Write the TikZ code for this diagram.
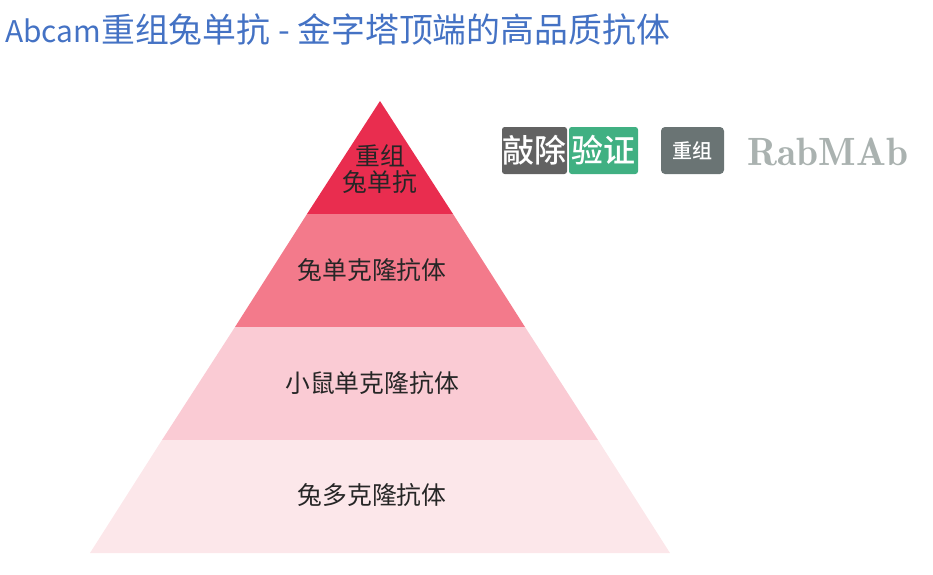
\documentclass[tikz,border=0pt]{standalone}
\usepackage{fontspec}
\setmainfont{Noto Sans CJK SC}
\newfontfamily\badgefont{Noto Sans CJK SC Medium}
\definecolor{titleblue}{RGB}{68,114,196}
\definecolor{tierone}{RGB}{233,45,79}
\definecolor{tiertwo}{RGB}{243,122,139}
\definecolor{tierthree}{RGB}{250,203,212}
\definecolor{tierfour}{RGB}{252,231,234}
\definecolor{koleft}{RGB}{98,98,98}
\definecolor{kogreen}{RGB}{64,176,130}
\definecolor{recombox}{RGB}{106,116,116}
\definecolor{rabgrey}{RGB}{170,178,176}
\tikzset{
  tierlabel/.style={font=\fontsize{18.6}{22}\selectfont,text=black!85,inner sep=0pt},
  badgelabel/.style={font=\badgefont\fontsize{24}{26}\selectfont,text=white,inner sep=0pt}
}
\begin{document}
\begin{tikzpicture}[x=0.75pt,y=-0.75pt]
  \useasboundingbox (0,0) rectangle (933,575);
  \draw
    (5,30) node[anchor=west,inner sep=0pt,text=titleblue,font=\fontsize{25.4}{28}\selectfont] (title){{\fontsize{22.4}{28}\selectfont Abcam}重组兔单抗 - 金字塔顶端的高品质抗体};
  \begin{scope}
    \fill[tierone] (380,101) -- (453,214) -- (307,214) -- cycle;
    \fill[tiertwo] (307,214) -- (453,214) -- (525,327) -- (235,327) -- cycle;
    \fill[tierthree] (235,327) -- (525,327) -- (598,440) -- (162,440) -- cycle;
    \fill[tierfour] (162,440) -- (598,440) -- (670,553) -- (90,553) -- cycle;
  \end{scope}
  \draw
    (380,169) node[tierlabel,align=center] (recomb){重组\\[-2pt]兔单抗}
    (372,270) node[tierlabel] (rabbitmono){兔单克隆抗体}
    (372,383) node[tierlabel] (mousemono){小鼠单克隆抗体}
    (372,495) node[tierlabel] (rabbitpoly){兔多克隆抗体};
  \begin{scope}
    \fill[koleft,rounded corners=2pt] (502,127) rectangle (567,174);
    \fill[kogreen,rounded corners=2pt] (569,127) rectangle (638,174);
    \fill[recombox,rounded corners=3pt] (661,127) rectangle (724,174);
  \end{scope}
  \draw
    (534.5,150.5) node[badgelabel] (knockout){敲除}
    (603.5,150.5) node[badgelabel] (validated){验证}
    (692.5,151) node[inner sep=0pt,text=white,font=\badgefont\fontsize{15}{17}\selectfont] (recombtag){重组}
    (828,152) node[inner sep=0pt,text=rabgrey,font=\fontfamily{lmr}\fontsize{29.6}{32}\selectfont\bfseries] (rabmab){RabMAb};
\end{tikzpicture}
\end{document}
